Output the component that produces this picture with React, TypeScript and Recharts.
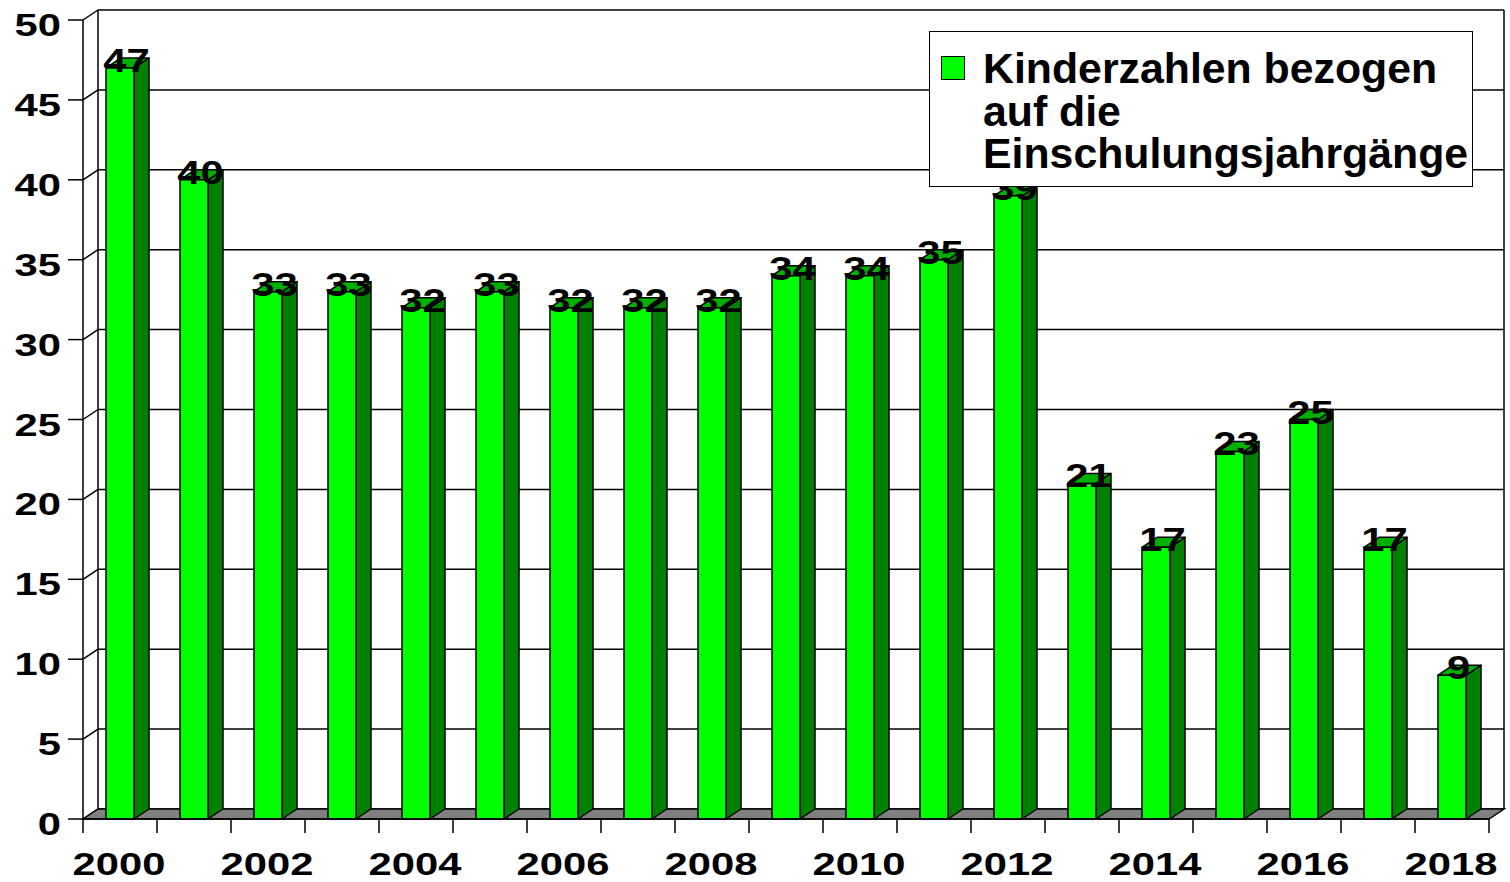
import React from "react";
import { BarChart, Bar, XAxis, YAxis, CartesianGrid, Legend, LabelList } from "recharts";

const YEARS = [
  "2000", "2001", "2002", "2003", "2004", "2005", "2006", "2007", "2008", "2009",
  "2010", "2011", "2012", "2013", "2014", "2015", "2016", "2017", "2018",
];
const KINDER = [47, 40, 33, 33, 32, 33, 32, 32, 32, 34, 34, 35, 39, 21, 17, 23, 25, 17, 9];
const Y_TICKS = [0, 5, 10, 15, 20, 25, 30, 35, 40, 45, 50];
const SERIES_NAME = "Kinderzahlen bezogen auf die Einschulungsjahrgänge";
const LEGEND_LINES = ["Kinderzahlen bezogen", "auf die", "Einschulungsjahrgänge"];

const data = YEARS.map((year, i) => ({ year, kinder: KINDER[i] }));

// 3d depth of the excel-style chart
const DX = 15;
const DY = 10;
const FONT = '"Liberation Sans", Arial, Helvetica, sans-serif';
const DIGIT_W = 23.2;

const Bar3D = (props: any) => {
  const { x, y, width, height } = props;
  if (height == null || width == null) return null;
  const r = x + width;
  const b = y + height;
  return (
    <g stroke="#000" strokeWidth={1.5} strokeLinejoin="round">
      <polygon
        points={`${r},${y} ${r + DX},${y - DY} ${r + DX},${b - DY} ${r},${b}`}
        fill="#008000"
      />
      <polygon
        points={`${x},${y} ${x + DX},${y - DY} ${r + DX},${y - DY} ${r},${y}`}
        fill="#00b000"
      />
      <rect x={x} y={y} width={width} height={height} fill="#00ff00" />
    </g>
  );
};

const ValueLabel = (props: any) => {
  const { x, y, width, value } = props;
  const s = String(value);
  return (
    <text
      x={x + (width + DX) / 2 - 1}
      y={y + 4}
      textAnchor="middle"
      fontFamily={FONT}
      fontWeight="bold"
      fontSize={33}
      textLength={s.length * DIGIT_W}
      lengthAdjust="spacingAndGlyphs"
      fill="#000"
    >
      {s}
    </text>
  );
};

const XTick = (props: any) => {
  const { x, y, payload } = props;
  const half = payload && payload.offset ? payload.offset : 37;
  const idx = props.index ?? payload.index ?? YEARS.indexOf(String(payload.value));
  const year = Number(payload.value);
  const last = idx === YEARS.length - 1;
  return (
    <g>
      <line x1={x - half} y1={y} x2={x - half} y2={y + 14} stroke="#000" strokeWidth={1.5} />
      {last && <line x1={x + half} y1={y} x2={x + half} y2={y + 14} stroke="#000" strokeWidth={1.5} />}
      {year % 2 === 0 && (
        <text
          x={x - 1}
          y={y + 56}
          textAnchor="middle"
          fontFamily={FONT}
          fontWeight="bold"
          fontSize={32}
          textLength={4 * DIGIT_W}
          lengthAdjust="spacingAndGlyphs"
          fill="#000"
        >
          {payload.value}
        </text>
      )}
    </g>
  );
};

const YTick = (props: any) => {
  const { x, y, payload } = props;
  const s = String(payload.value);
  return (
    <text
      x={x}
      y={y + 16}
      textAnchor="end"
      fontFamily={FONT}
      fontWeight="bold"
      fontSize={32}
      textLength={s.length * DIGIT_W}
      lengthAdjust="spacingAndGlyphs"
      fill="#000"
    >
      {s}
    </text>
  );
};

const gridLine = (p: any) => {
  const { x1, y1, x2 } = p;
  const hasBox = typeof p.y === "number" && typeof p.height === "number";
  const isFloor = hasBox ? Math.abs(y1 - (p.y + p.height)) < 0.5 : p.index === 0;
  const top = hasBox ? p.y - DY : y1 - DY - 799;
  return (
    <g key={`grid-${p.index}`}>
      <line x1={x1} y1={y1} x2={x1 + DX} y2={y1 - DY} stroke="#000" strokeWidth={1.5} />
      <line x1={x1 + DX} y1={y1 - DY} x2={x2 + DX} y2={y1 - DY} stroke="#000" strokeWidth={1.5} />
      {isFloor && (
        <g>
          <line x1={x1 + DX} y1={top} x2={x1 + DX} y2={y1 - DY} stroke="#000" strokeWidth={1.5} />
          <line x1={x2 + DX} y1={top} x2={x2 + DX} y2={y1 - DY} stroke="#000" strokeWidth={1.5} />
          <polygon
            points={`${x1},${y1} ${x1 + DX},${y1 - DY} ${x2 + DX},${y1 - DY} ${x2},${y1}`}
            fill="#808080"
            stroke="#000"
            strokeWidth={1.5}
          />
        </g>
      )}
    </g>
  );
};

const LegendBox = () => (
  <div
    style={{
      position: "relative",
      width: 544,
      height: 156,
      boxSizing: "border-box",
      border: "1.5px solid #000",
      background: "#fff",
      fontFamily: FONT,
      fontWeight: "bold",
      fontSize: 42.8,
      lineHeight: "42.5px",
      color: "#000",
    }}
  >
    <div
      style={{
        position: "absolute",
        left: 11,
        top: 24,
        width: 24,
        height: 24,
        boxSizing: "border-box",
        background: "#00ff00",
        border: "1.5px solid #000",
      }}
    />
    <div style={{ position: "absolute", left: 53, top: 15, whiteSpace: "nowrap" }}>
      {LEGEND_LINES.map((l) => (
        <div key={l}>{l}</div>
      ))}
    </div>
  </div>
);

export default function App() {
  return (
    <div style={{ position: "absolute", left: 0, top: 0, background: "#fff" }}>
      <BarChart
        width={1510}
        height={882}
        data={data}
        margin={{ top: 20, right: 21, bottom: 0, left: 0 }}
      >
        <CartesianGrid vertical={false} horizontal={gridLine} />
        <XAxis
          dataKey="year"
          interval={0}
          height={63}
          tickSize={0}
          tickMargin={0}
          tickLine={false}
          axisLine={{ stroke: "#000", strokeWidth: 1.5 }}
          tick={XTick}
        />
        <YAxis
          domain={[0, 50]}
          ticks={Y_TICKS}
          width={83}
          tickSize={15}
          tickMargin={7}
          tickLine={{ stroke: "#000", strokeWidth: 1.5 }}
          axisLine={{ stroke: "#000", strokeWidth: 1.5 }}
          tick={YTick}
        />
        <Legend
          layout="horizontal"
          verticalAlign="middle"
          align="center"
          wrapperStyle={{ left: 929, top: 31, width: 544, height: 156 }}
          content={() => <LegendBox />}
        />
        <Bar
          dataKey="kinder"
          name={SERIES_NAME}
          barSize={28}
          shape={Bar3D}
          isAnimationActive={false}
        >
          <LabelList dataKey="kinder" content={ValueLabel} />
        </Bar>
      </BarChart>
    </div>
  );
}
